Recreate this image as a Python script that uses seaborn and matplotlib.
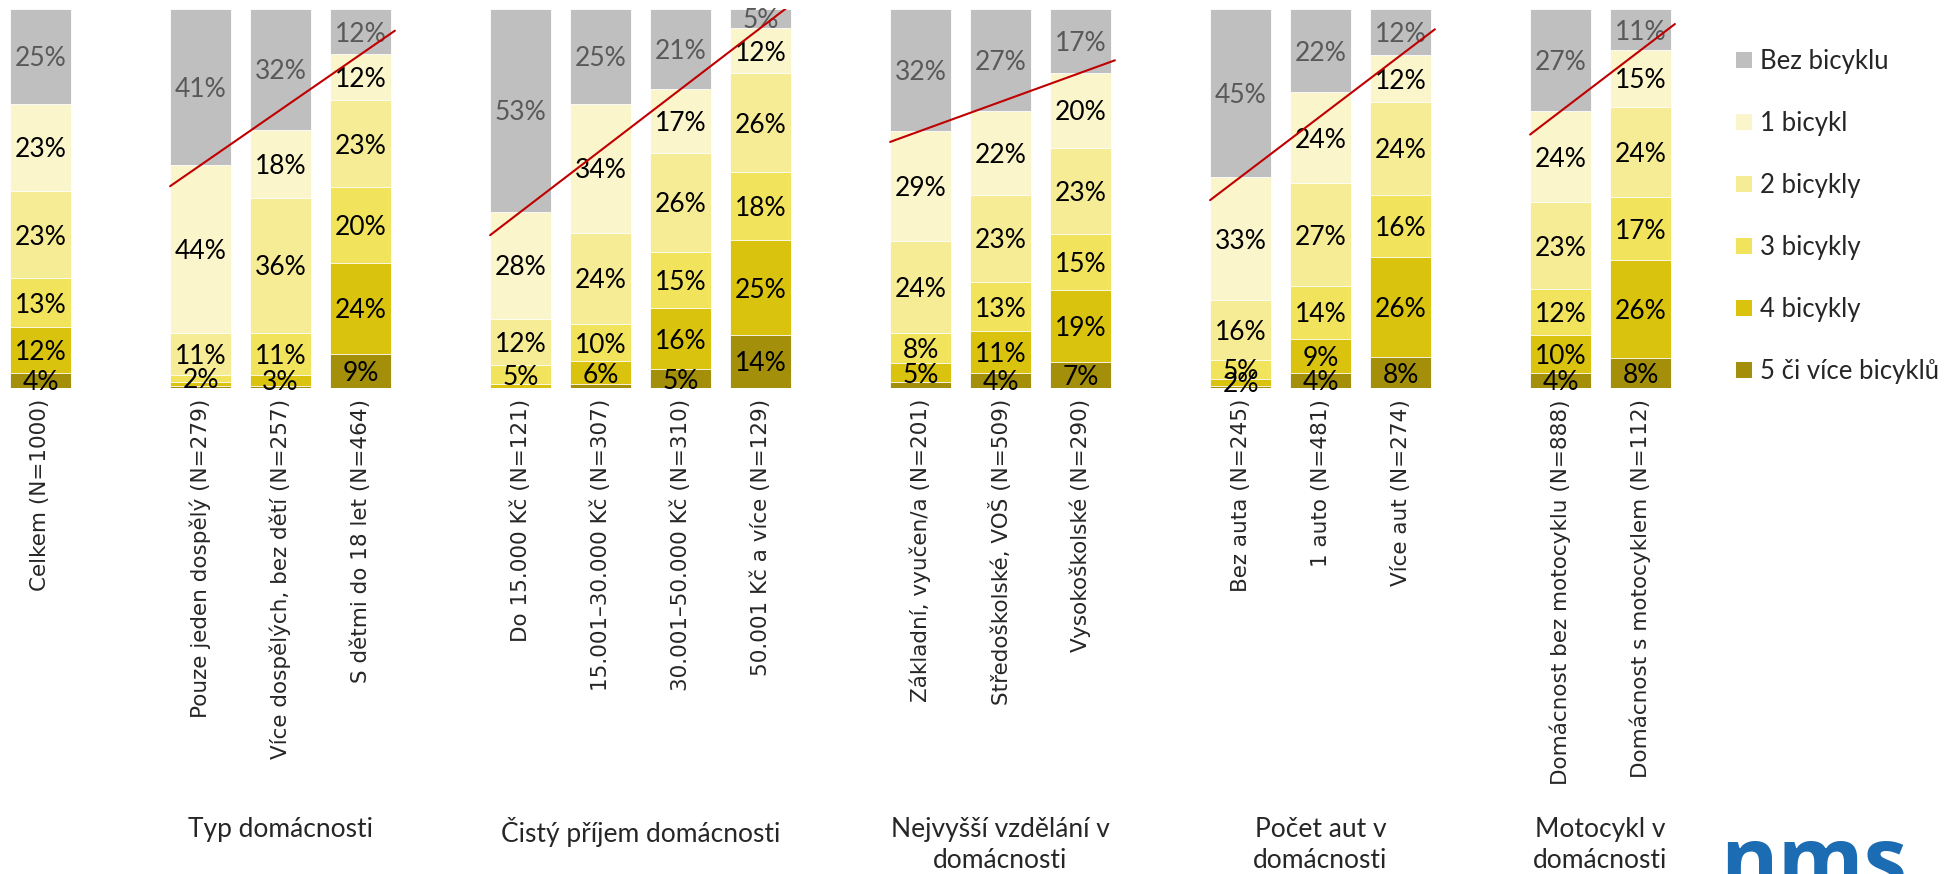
import numpy as np
import matplotlib
matplotlib.use('Agg')
import matplotlib.pyplot as plt
import matplotlib.transforms as mtransforms
from matplotlib.patches import Patch
import seaborn as sns

# skupiny a kategorie (sloupce)
skupiny = ['', 'Typ domácnosti', 'Čistý příjem domácnosti',
           'Nejvyšší vzdělání v\ndomácnosti', 'Počet aut v\ndomácnosti',
           'Motocykl v\ndomácnosti']
pocty_v_skupine = [1, 3, 4, 3, 3, 2]
kategorie = ['Celkem (N=1000)',
             'Pouze jeden dospělý (N=279)', 'Více dospělých, bez dětí (N=257)',
             'S dětmi do 18 let (N=464)',
             'Do 15.000 Kč (N=121)', '15.001–30.000 Kč (N=307)',
             '30.001–50.000 Kč (N=310)', '50.001 Kč a více (N=129)',
             'Základní, vyučen/a (N=201)', 'Středoškolské, VOŠ (N=509)',
             'Vysokoškolské (N=290)',
             'Bez auta (N=245)', '1 auto (N=481)', 'Více aut (N=274)',
             'Domácnost bez motocyklu (N=888)', 'Domácnost s motocyklem (N=112)']

serie = ['Bez bicyklu', '1 bicykl', '2 bicykly', '3 bicykly', '4 bicykly',
         '5 či více bicyklů']
bez_bicyklu = [25, 41, 32, 12, 53, 25, 21, 5, 32, 27, 17, 45, 22, 12, 27, 11]
bicykl_1 = [23, 44, 18, 12, 28, 34, 17, 12, 29, 22, 20, 33, 24, 12, 24, 15]
bicykly_2 = [23, 11, 36, 23, 12, 24, 26, 26, 24, 23, 23, 16, 27, 24, 23, 24]
bicykly_3 = [13, 2, 11, 20, 5, 10, 15, 18, 8, 13, 15, 5, 14, 16, 12, 17]
bicykly_4 = [12, 1, 3, 24, 1, 6, 16, 25, 5, 11, 19, 2, 9, 26, 10, 26]
bicykly_5 = [4, 0.5, 0.5, 9, 0, 1, 5, 14, 1.5, 4, 7, 0.5, 4, 8, 4, 8]

barvy = ['#BFBFBF', '#FAF5CB', '#F7EC96', '#F2E35C', '#D9C30E', '#A38F0A']

sns.set_theme(style='white')
plt.rcParams['font.family'] = ['Lato', 'DejaVu Sans']

# pozice sloupcu - mezi skupinami jedna prazdna pozice
pozice = []
start = 0
for k in pocty_v_skupine:
    pozice.extend(range(start, start + k))
    start += k + 1
pozice = np.array(pozice, dtype=float)

hodnoty = np.array([bez_bicyklu, bicykl_1, bicykly_2, bicykly_3, bicykly_4, bicykly_5], dtype=float)
podily = hodnoty / hodnoty.sum(axis=0) * 100  # 100% skladany graf
horni = np.array([podily[i:].sum(axis=0) for i in range(len(serie))])

fig = plt.figure(figsize=(19.54, 8.74), dpi=100)
W, H = 1954, 874
ax = fig.add_axes([0.5 / W, (H - 388) / H, 1680 / W, 379 / H])

# kreslime od nejvyssi kumulativni hodnoty po nejnizsi
for i in range(len(serie)):
    sns.barplot(x=pozice, y=horni[i], native_scale=True, color=barvy[i],
                saturation=1, width=0.76, edgecolor='white', linewidth=0.6,
                ax=ax)

# popisky hodnot
for i in range(len(serie)):
    for j in range(len(kategorie)):
        v = hodnoty[i, j]
        if v < 2:
            continue
        yc = horni[i, j] - podily[i, j] / 2
        ax.text(pozice[j], yc, f'{v:.0f}%', ha='center', va='center_baseline',
                fontsize=19, color='#595959' if i == 0 else 'black')

# cervene cary - hranice "Bez bicyklu" v ramci skupiny
hranice = 100 - podily[0]
idx = 0
for g, k in enumerate(pocty_v_skupine):
    if k > 1:
        x0, x1 = pozice[idx], pozice[idx + k - 1]
        y0, y1 = hranice[idx], hranice[idx + k - 1]
        sklon = (y1 - y0) / (x1 - x0)
        xa, xb = x0 - 0.38, x1 + 0.43
        ax.plot([xa, xb], [y0 + sklon * (xa - x0), y0 + sklon * (xb - x0)],
                color='#C00000', lw=1.5, zorder=5)
    idx += k

ax.set_xlim(-0.5, pozice[-1] + 0.5)
ax.set_ylim(0, 100)
ax.set_yticks([])
ax.set_xticks(pozice)
ax.set_xticklabels(kategorie, rotation=90, fontsize=15.5, family='DejaVu Sans')
ax.tick_params(axis='x', length=0, pad=8)
ax.set_xlabel('')
ax.set_ylabel('')
sns.despine(ax=ax, left=True, bottom=True)

# nazvy skupin pod popisky
trans = mtransforms.blended_transform_factory(ax.transData, fig.transFigure)
idx = 0
for nazev, k in zip(skupiny, pocty_v_skupine):
    if nazev:
        xc = pozice[idx:idx + k].mean()
        ax.text(xc, (H - 817) / H, nazev, transform=trans, ha='center',
                va='top', fontsize=19, linespacing=1.3)
    idx += k

# legenda
handles = [Patch(facecolor=c, edgecolor='none') for c in barvy]
fig.legend(handles, serie, loc='upper left',
           bbox_to_anchor=(1736 / W, (H - 49) / H), frameon=False,
           fontsize=18.5, handlelength=0.62, handleheight=0.62,
           handletextpad=0.3, labelspacing=1.44, borderpad=0, borderaxespad=0)

# logo
fig.text(1720 / W, (H - 890) / H, 'nms', fontsize=63, fontweight='bold',
         color='#1B6CB3', family='Open Sans', va='baseline')

fig.savefig('out.png', dpi=100)
